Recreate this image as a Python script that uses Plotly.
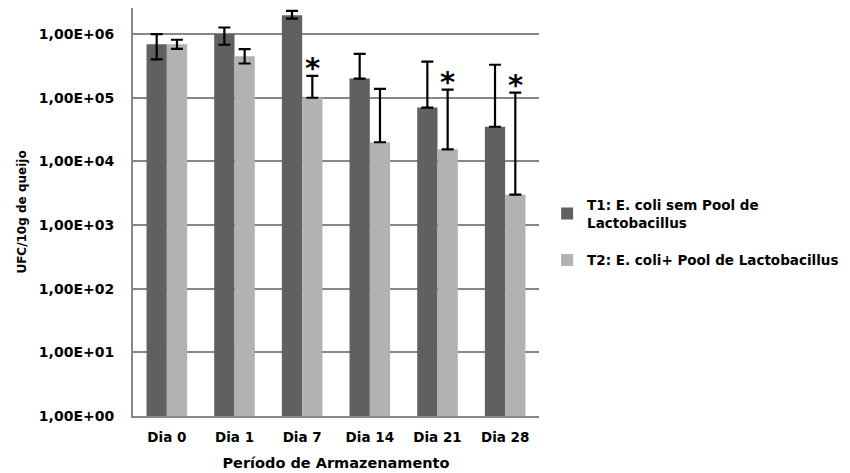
import plotly.graph_objects as go
import math

# ---- data ----
days = ["Dia 0", "Dia 1", "Dia 7", "Dia 14", "Dia 21", "Dia 28"]
t1_name = "T1: E. coli sem Pool de<br>Lactobacillus"
t2_name = "T2: E. coli+ Pool de Lactobacillus"
t1_values = [6.9e5, 1.0e6, 1.97e6, 2.0e5, 7.0e4, 3.5e4]
t1_err_plus = [3.1e5, 2.7e5, 3.4e5, 2.9e5, 3.0e5, 2.95e5]
t1_err_minus = [2.9e5, 3.2e5, 2.2e5, 0, 0, 0]
t2_values = [6.9e5, 4.5e5, 1.0e5, 2.0e4, 1.55e4, 3.0e3]
t2_err_plus = [1.25e5, 1.3e5, 1.2e5, 1.18e5, 1.19e5, 1.17e5]
t2_err_minus = [1.05e5, 1.05e5, 0, 0, 0, 0]
significant_days = ["Dia 7", "Dia 21", "Dia 28"]
tick_vals = [1, 10, 100, 1000, 10000, 100000, 1000000]
tick_text = ["1,00E+00", "1,00E+01", "1,00E+02", "1,00E+03", "1,00E+04", "1,00E+05", "1,00E+06"]

DARK = "#606060"
LIGHT = "#b2b2b2"
GRID = "#878787"
FONT = "DejaVu Sans"

err_style = dict(type="data", symmetric=False, color="black", thickness=2.2, width=6)

fig = go.Figure()
fig.add_trace(go.Bar(
    x=days, y=t1_values, name=t1_name, legendgroup="t1",
    marker=dict(color=DARK, line=dict(width=0)),
    error_y=dict(array=t1_err_plus, arrayminus=t1_err_minus, **err_style),
))
fig.add_trace(go.Bar(
    x=days, y=t2_values, name=t2_name, legendgroup="t2",
    marker=dict(color=LIGHT, line=dict(width=0)),
    error_y=dict(array=t2_err_plus, arrayminus=t2_err_minus, **err_style),
))

# asterisks above T2 error bars of significant days
for d in significant_days:
    i = days.index(d)
    top = t2_values[i] + t2_err_plus[i]
    fig.add_annotation(
        x=d, y=math.log10(top), xref="x", yref="y", text="<b>*</b>",
        showarrow=False, xshift=10, yanchor="bottom", yshift=-11,
        font=dict(family=FONT, size=29, color="black"),
    )

fig.update_layout(
    width=850, height=473, autosize=False,
    paper_bgcolor="white", plot_bgcolor="white",
    margin=dict(l=133, r=311, t=8, b=57, autoexpand=False),
    barmode="group", bargap=0.4, bargroupgap=0,
    font=dict(family=FONT, color="black"),
    legend=dict(
        x=1.02, xanchor="left", y=0.555, yanchor="top",
        font=dict(family=FONT, size=13.5, color="black", weight="bold"),
        itemwidth=30, tracegroupgap=17, bgcolor="rgba(0,0,0,0)",
    ),
    showlegend=True,
)
fig.update_xaxes(
    showgrid=False, showline=True, linecolor=GRID, linewidth=2,
    ticks="", ticklabelstandoff=8, automargin=False,
    tickfont=dict(family=FONT, size=13.5, color="black", weight="bold"),
    title=dict(text="<b>Período de Armazenamento</b>", font=dict(family=FONT, size=14.5, color="black"), standoff=14),
)
fig.update_yaxes(
    type="log", range=[0, 6.41], tickvals=tick_vals, ticktext=tick_text,
    showgrid=True, gridcolor=GRID, gridwidth=2, automargin=False,
    showline=True, linecolor=GRID, linewidth=2, ticks="", ticklabelstandoff=14,
    tickfont=dict(family=FONT, size=14, color="black", weight="bold"),
    title=dict(text="<b>UFC/10g de queijo</b>", font=dict(family=FONT, size=12, color="black"), standoff=10),
    zeroline=False,
)

fig.write_html("out.html", config={"displayModeBar": False},
               post_script="document.body.style.margin='0';")
